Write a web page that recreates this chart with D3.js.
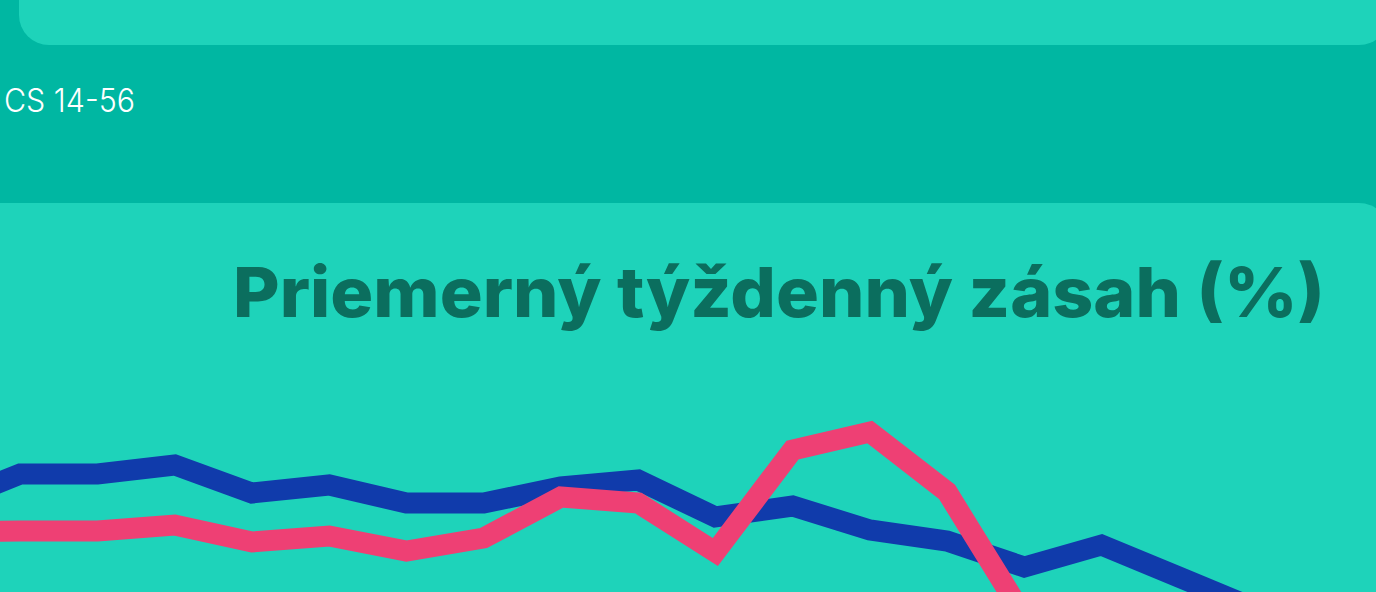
<!DOCTYPE html>
<html lang="sk">
<head>
<meta charset="utf-8">
<script src="https://cdn.jsdelivr.net/npm/d3@7"></script>
<style>
  html, body { margin: 0; padding: 0; background: #00b7a2; overflow: hidden; }
  svg { display: block; }
</style>
</head>
<body>
<div id="graf"></div>
<script>
// Priemerny tyzdenny zasah - dve krivky

// data (tyzdne a hodnoty v %)
tyzdne = ['T1','T2','T3','T4','T5','T6','T7','T8','T9','T10','T11','T12','T13','T14','T15','T16','T17','T18']
serieA = [47.5, 50.6, 50.6, 51.5, 48.7, 49.5, 47.7, 47.7, 49.3, 50.0, 46.3, 47.4, 45.0, 43.9, 41.3, 43.5, 40.3, 37.1]
serieB = [44.8, 44.9, 44.9, 45.5, 43.8, 44.4, 42.9, 44.2, 48.3, 47.7, 42.8, 53.0, 54.8, 48.8, 36.3]
skupina = 'CS 14-56'
titulok = 'Priemerný týždenný zásah (%)'
farby = ['#103bab', '#ee4074']

ancho_total = 1376
alto_total = 592

graf = d3.select('#graf')
svg = graf.append('svg')
          .attr('width', ancho_total)
          .attr('height', alto_total)

// pozadie a panely
svg.append('rect')
   .attr('width', ancho_total)
   .attr('height', alto_total)
   .attr('fill', '#00b7a2')

svg.append('rect')
   .attr('x', 19).attr('y', -60)
   .attr('width', 1370).attr('height', 105)
   .attr('rx', 30)
   .attr('fill', '#1ed3ba')

svg.append('rect')
   .attr('x', -40).attr('y', 203)
   .attr('width', 1429).attr('height', 800)
   .attr('rx', 30)
   .attr('fill', '#1ed3ba')

// nazov cielovej skupiny
svg.append('text')
   .attr('x', 4)
   .attr('y', 112)
   .attr('fill', '#ffffff')
   .style('font-family', 'Inter, "Noto Sans", sans-serif')
   .style('font-weight', 300)
   .style('font-size', '32px')
   .attr('textLength', 131)
   .attr('lengthAdjust', 'spacingAndGlyphs')
   .text(skupina)

// titulok grafu
svg.append('text')
   .attr('x', 1325)
   .attr('y', 317)
   .attr('text-anchor', 'end')
   .attr('fill', '#0b6e5e')
   .style('font-family', 'Inter, "Noto Sans", sans-serif')
   .style('font-weight', 800)
   .style('font-size', '69px')
   .attr('textLength', 1092)
   .attr('lengthAdjust', 'spacingAndGlyphs')
   .text(titulok)

// skaly
x = d3.scalePoint()
      .domain(tyzdne)
      .range([-57, 1256])
y = d3.scaleLinear()
      .domain([0, 60])
      .range([980, 380])

lineaGen = d3.line()
             .x(d => x(d.tyzden))
             .y(d => y(d.hodnota))

g = svg.append('g')

;[serieA, serieB].forEach((serie, i) => {
  data = serie.map((v, j) => ({ tyzden: tyzdne[j], hodnota: v }))
  g.append('path')
   .attr('fill', 'none')
   .attr('stroke', farby[i])
   .attr('stroke-width', 21)
   .attr('stroke-linejoin', 'miter')
   .attr('stroke-miterlimit', 10)
   .attr('d', lineaGen(data))
})
</script>
</body>
</html>
